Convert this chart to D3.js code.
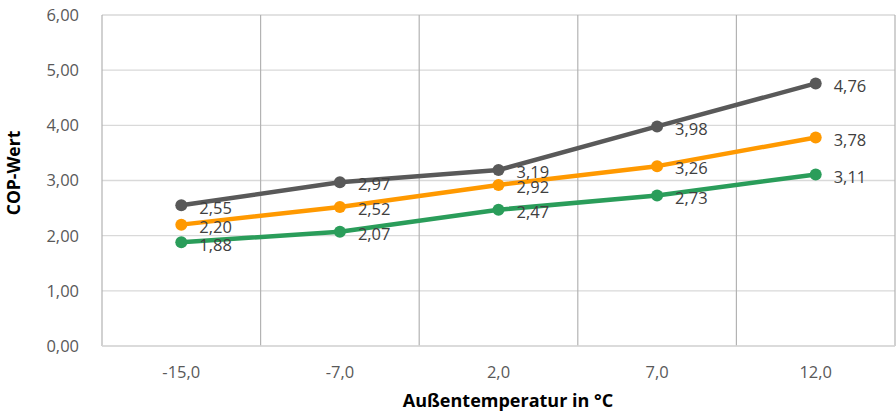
<!DOCTYPE html>
<html><head><meta charset="utf-8">
<script src="https://cdn.jsdelivr.net/npm/d3@7"></script>
<style>body{margin:0;background:#fff}svg{display:block}</style>
</head><body>
<svg id="c" width="896" height="412"></svg>
<script>
const categories = ["-15,0", "-7,0", "2,0", "7,0", "12,0"];
const seriesGray = [2.55, 2.97, 3.19, 3.98, 4.76];
const seriesOrange = [2.20, 2.52, 2.92, 3.26, 3.78];
const seriesGreen = [1.88, 2.07, 2.47, 2.73, 3.11];
const yTicks = [0, 1, 2, 3, 4, 5, 6];
const series = [
  {name: "gray", values: seriesGray, color: "#595959"},
  {name: "orange", values: seriesOrange, color: "#FF9900"},
  {name: "green", values: seriesGreen, color: "#2A9D5A"}
];
const fmt = v => v.toFixed(2).replace(".", ",");
const svg = d3.select("#c");
const m = {l: 102, r: 895, t: 15, b: 346};
const x = d3.scaleBand().domain(categories).range([m.l, m.r]);
const y = d3.scaleLinear().domain([0, 6]).range([m.b, m.t]);
const font = "'Open Sans', 'Noto Sans', sans-serif";

// horizontal gridlines
svg.append("g").selectAll("line").data(yTicks).join("line")
  .attr("x1", m.l).attr("x2", m.r)
  .attr("y1", d => y(d)).attr("y2", d => y(d))
  .attr("stroke", "#d9d9d9").attr("stroke-width", 1.3);
// vertical gridlines at band boundaries
const bounds = categories.map(c => x(c)).concat([x(categories[categories.length-1]) + x.bandwidth()]);
svg.append("g").selectAll("line").data(bounds).join("line")
  .attr("x1", d => d).attr("x2", d => d)
  .attr("y1", m.t).attr("y2", m.b)
  .attr("stroke", "#b3b3b3").attr("stroke-width", 1.2);
// bottom axis line
svg.append("line").attr("x1", m.l).attr("x2", m.r).attr("y1", y(0)).attr("y2", y(0))
  .attr("stroke", "#d9d9d9").attr("stroke-width", 1.3);

// y tick labels
svg.append("g").selectAll("text").data(yTicks).join("text")
  .attr("x", 79).attr("y", d => y(d)).attr("dy", "0.36em")
  .attr("text-anchor", "end").attr("font-family", font).attr("font-size", 16.5)
  .attr("fill", "#595959").text(d => fmt(d));
// x tick labels
svg.append("g").selectAll("text").data(categories).join("text")
  .attr("x", d => x(d) + x.bandwidth()/2).attr("y", 378)
  .attr("text-anchor", "middle").attr("font-family", font).attr("font-size", 16.5)
  .attr("fill", "#595959").text(d => d);

// axis titles
svg.append("text").attr("transform", "translate(20,173) rotate(-90)")
  .attr("text-anchor", "middle").attr("font-family", font).attr("font-size", 17.5)
  .attr("font-weight", "bold").attr("fill", "#000").text("COP-Wert");
svg.append("text").attr("x", 508).attr("y", 407)
  .attr("text-anchor", "middle").attr("font-family", font).attr("font-size", 18)
  .attr("font-weight", "bold").attr("fill", "#000").text("Außentemperatur in °C");

const cx = (d, i) => x(categories[i]) + x.bandwidth()/2;
const line = d3.line().x((d, i) => cx(d, i)).y(d => y(d));
series.forEach(s => {
  const g = svg.append("g");
  g.append("path").datum(s.values).attr("d", line)
    .attr("fill", "none").attr("stroke", s.color).attr("stroke-width", 4.5)
    .attr("stroke-linejoin", "round").attr("stroke-linecap", "round");
  g.selectAll("circle").data(s.values).join("circle")
    .attr("cx", cx).attr("cy", d => y(d)).attr("r", 6).attr("fill", s.color);
});
series.forEach(s => {
  svg.append("g").selectAll("text").data(s.values).join("text")
    .attr("x", (d, i) => cx(d, i) + 18).attr("y", d => y(d)).attr("dy", "0.5em")
    .attr("font-family", font).attr("font-size", 16.5).attr("fill", "#404040")
    .text(d => fmt(d));
});
</script>
</body></html>
